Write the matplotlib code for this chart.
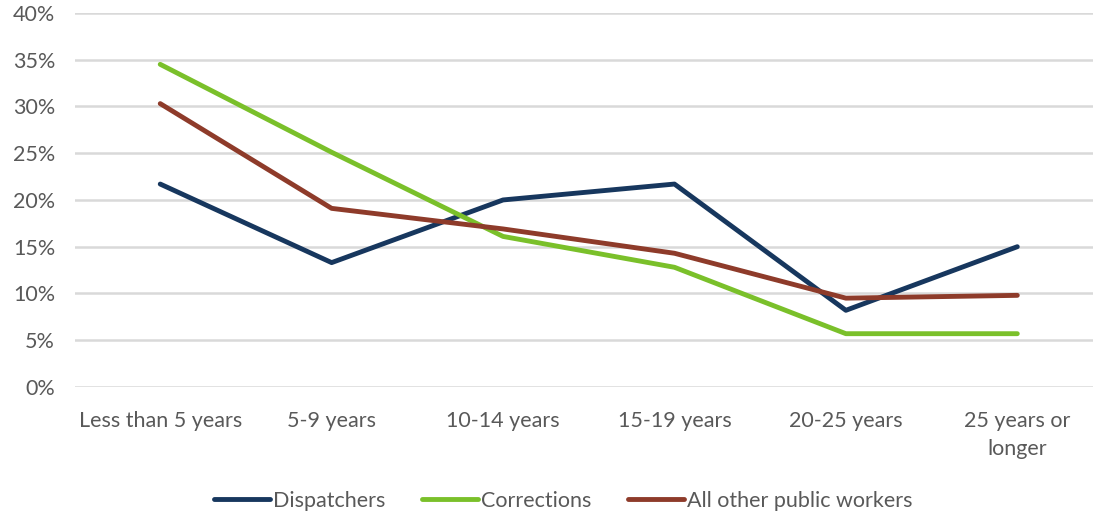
import numpy as np
import matplotlib.pyplot as plt

# Categorias e valores (%)
categorias = ['Less than 5 years', '5-9 years', '10-14 years', '15-19 years', '20-25 years', '25 years or\nlonger']
dispatchers = [21.7, 13.3, 20.0, 21.7, 8.2, 15.0]
corrections = [34.5, 25.1, 16.1, 12.8, 5.7, 5.7]
outros = [30.3, 19.1, 16.9, 14.3, 9.5, 9.8]
yticks = [0, 5, 10, 15, 20, 25, 30, 35, 40]

plt.rcParams['font.family'] = ['Lato', 'DejaVu Sans']
cor_texto = '#595959'

fig = plt.figure(figsize=(10.96, 5.16), dpi=100)
ax = fig.add_axes([0.068, 0.25, 0.929, 0.725])

x = np.arange(len(categorias))
ax.plot(x, dispatchers, color='#17375E', lw=3.5, label='Dispatchers', solid_capstyle='round')
ax.plot(x, corrections, color='#7AC02A', lw=3.5, label='Corrections', solid_capstyle='round')
ax.plot(x, outros, color='#8E3B2A', lw=3.5, label='All other public workers', solid_capstyle='round')

ax.set_xlim(-0.5, 5.44)
ax.set_ylim(0, 40)
ax.set_yticks(yticks)
ax.set_yticklabels([f'{v}%' for v in yticks])
ax.set_xticks(x)
ax.set_xticklabels(categorias, linespacing=1.5)
ax.grid(axis='y', color='#D9D9D9', lw=1.8)
ax.set_axisbelow(True)
for s in ax.spines.values():
    s.set_visible(False)
ax.tick_params(length=0, labelsize=15.5, colors=cor_texto)
ax.tick_params(axis='x', pad=17)
ax.tick_params(axis='y', pad=14)

leg = fig.legend(loc='center', bbox_to_anchor=(0.514, 0.03), ncol=3, frameon=False,
                 fontsize=15.5, handlelength=2.6, handletextpad=0.15, columnspacing=1.7)
for t in leg.get_texts():
    t.set_color(cor_texto)

fig.savefig('out.png', dpi=100)
